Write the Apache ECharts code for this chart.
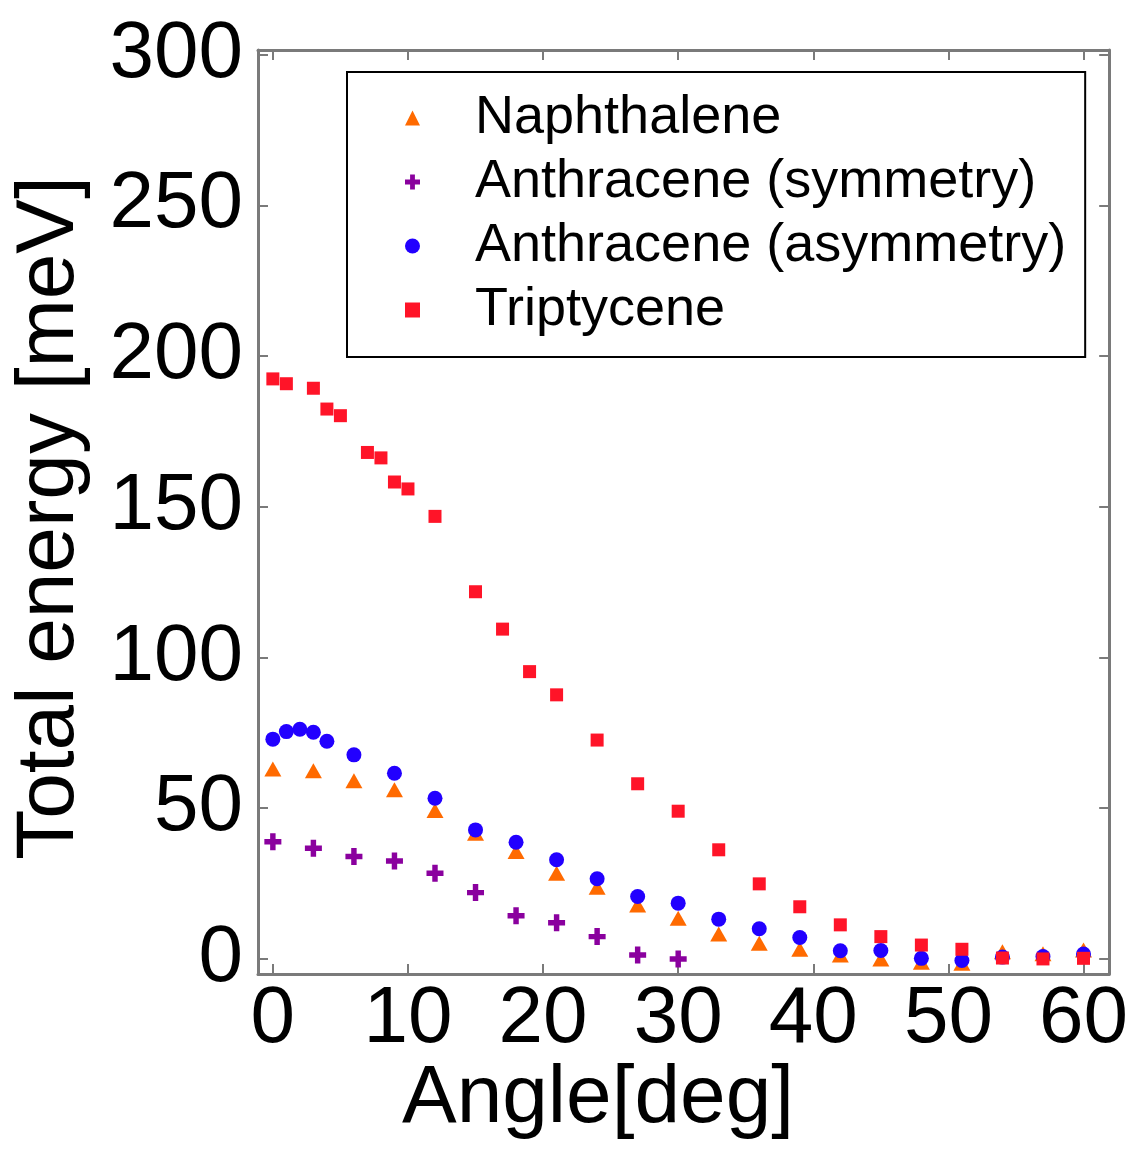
<!DOCTYPE html>
<html>
<head>
<meta charset="utf-8">
<title>Total energy vs angle</title>
<script src="https://cdn.jsdelivr.net/npm/echarts@6/dist/echarts.min.js"></script>
<style>
  html, body { margin: 0; padding: 0; background: #fff; }
  #chart { width: 1131px; height: 1149px; }
</style>
</head>
<body>
<div id="chart"></div>
<script>
// tick values
const xTicks = [0, 10, 20, 30, 40, 50, 60];
const yTicks = [0, 50, 100, 150, 200, 250, 300];

// Naphthalene
const naphAngle = [0, 3, 6, 9, 12, 15, 18, 21, 24, 27, 30, 33, 36, 39, 42, 45, 48, 51, 54, 57, 60];
const naphEnergy = [63.0, 62.4, 59.1, 56.1, 49.2, 41.7, 35.6, 28.4, 23.8, 17.9, 13.5, 8.3, 5.2, 3.2, 1.3, 0.0, -1.1, -1.4, 2.4, 1.7, 3.0];

// Anthracene (symmetry)
const symAngle = [0, 3, 6, 9, 12, 15, 18, 21, 24, 27, 30];
const symEnergy = [38.9, 36.7, 34.0, 32.5, 28.4, 22.0, 14.3, 12.0, 7.4, 1.3, 0.0];

// Anthracene (asymmetry)
const asymAngle = [0, 1, 2, 3, 4, 6, 9, 12, 15, 18, 21, 24, 27, 30, 33, 36, 39, 42, 45, 48, 51, 54, 57, 60];
const asymEnergy = [72.9, 75.4, 76.2, 75.2, 72.2, 67.7, 61.6, 53.3, 42.8, 38.7, 32.9, 26.6, 20.7, 18.5, 13.2, 10.0, 7.1, 2.7, 2.8, 0.2, -0.5, 0.6, 0.8, 1.6];

// Triptycene
const tripAngle = [0, 1, 3, 4, 5, 7, 8, 9, 10, 12, 15, 17, 19, 21, 24, 27, 30, 33, 36, 39, 42, 45, 48, 51, 54, 57, 60];
const tripEnergy = [192.4, 190.8, 189.3, 182.4, 180.2, 168.0, 166.2, 158.2, 155.9, 146.8, 121.8, 109.4, 95.3, 87.6, 72.6, 58.1, 49.0, 36.2, 24.9, 17.3, 11.3, 7.4, 4.6, 3.2, 0.3, 0.0, 0.2];

const FONT = '"Liberation Sans", Helvetica, Arial, sans-serif';
const AXIS_GRAY = '#7a7a7a';
const PLUS = 'path://M3.4,0H6.6V3.4H10V6.6H6.6V10H3.4V6.6H0V3.4H3.4Z';

const zip = (xs, ys) => xs.map((x, i) => [x, ys[i]]);

const chart = echarts.init(document.getElementById('chart'));

const frameAxis = (extra) => Object.assign({
  type: 'value',
  axisLine: { show: true, onZero: false, lineStyle: { color: AXIS_GRAY, width: 3 } },
  splitLine: { show: false }
}, extra);

const xRange = { min: -1.1, max: 61.9 };
const yRange = { min: -5, max: 301.5 };

const option = {
  backgroundColor: '#fff',
  animation: false,
  grid: { left: 258, right: 21, top: 50, bottom: 175 },
  xAxis: [
    frameAxis(Object.assign({
      position: 'bottom',
      axisTick: { show: true, inside: true, length: 10, customValues: xTicks, lineStyle: { color: AXIS_GRAY, width: 2 } },
      axisLabel: { show: true, customValues: xTicks, margin: 6, color: '#000', fontSize: 80, fontFamily: FONT }
    }, xRange)),
    frameAxis(Object.assign({
      position: 'top',
      axisTick: { show: true, inside: true, length: 10, customValues: xTicks, lineStyle: { color: AXIS_GRAY, width: 2 } },
      axisLabel: { show: false }
    }, xRange))
  ],
  yAxis: [
    frameAxis(Object.assign({
      position: 'left',
      axisTick: { show: true, inside: true, length: 10, customValues: yTicks, lineStyle: { color: AXIS_GRAY, width: 2 } },
      axisLabel: { show: true, customValues: yTicks, margin: 15, color: '#000', fontSize: 80, fontFamily: FONT, padding: [0, 0, 8, 0] }
    }, yRange)),
    frameAxis(Object.assign({
      position: 'right',
      axisTick: { show: true, inside: true, length: 10, customValues: yTicks, lineStyle: { color: AXIS_GRAY, width: 2 } },
      axisLabel: { show: false }
    }, yRange))
  ],
  legend: {
    orient: 'vertical',
    left: 347,
    top: 72,
    padding: [19, 19, 20, 58],
    itemGap: 10,
    itemWidth: 15,
    itemHeight: 15,
    borderColor: '#000',
    borderWidth: 2,
    borderRadius: 0,
    backgroundColor: '#fff',
    textStyle: { fontSize: 54, fontFamily: FONT, color: '#000', padding: [0, 0, 0, 50] },
    data: ['Naphthalene', 'Anthracene (symmetry)', 'Anthracene (asymmetry)', 'Triptycene']
  },
  graphic: [
    {
      type: 'text',
      x: 598, y: 1099,
      style: { text: 'Angle[deg]', fontSize: 82, fontFamily: FONT, fill: '#000', align: 'center', verticalAlign: 'middle' }
    },
    {
      type: 'text',
      x: 50, y: 518,
      rotation: Math.PI / 2,
      style: { text: 'Total energy [meV]', fontSize: 82, fontFamily: FONT, fill: '#000', align: 'center', verticalAlign: 'middle' }
    }
  ],
  series: [
    {
      name: 'Naphthalene',
      type: 'scatter',
      symbol: 'triangle',
      symbolSize: [17, 15],
      itemStyle: { color: '#ff6a00', opacity: 1 },
      data: zip(naphAngle, naphEnergy)
    },
    {
      name: 'Anthracene (symmetry)',
      type: 'scatter',
      symbol: PLUS,
      symbolSize: 17,
      itemStyle: { color: '#8a009e', opacity: 1 },
      data: zip(symAngle, symEnergy)
    },
    {
      name: 'Anthracene (asymmetry)',
      type: 'scatter',
      symbol: 'circle',
      symbolSize: 15,
      itemStyle: { color: '#2200ff', opacity: 1 },
      data: zip(asymAngle, asymEnergy)
    },
    {
      name: 'Triptycene',
      type: 'scatter',
      symbol: 'rect',
      symbolSize: 13,
      itemStyle: { color: '#ff1428', opacity: 1 },
      data: zip(tripAngle, tripEnergy)
    }
  ]
};

chart.setOption(option);
</script>
</body>
</html>
